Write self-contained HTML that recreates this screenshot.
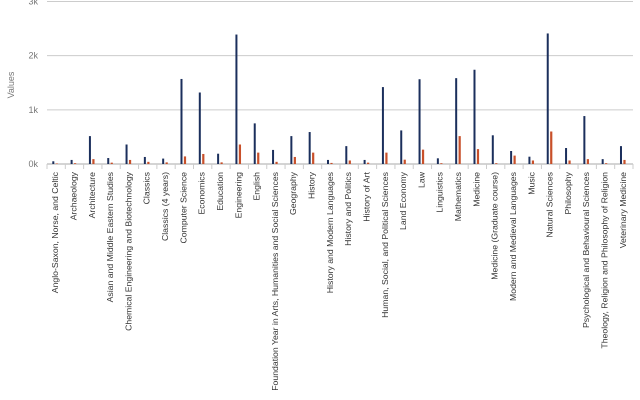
<!DOCTYPE html>
<html><head><meta charset="utf-8"><style>
body{margin:0;background:#fff;}
svg{display:block;font-family:"Liberation Sans",sans-serif;}
</style></head><body>
<svg id="chart" width="640" height="400" viewBox="0 0 640 400"></svg>
<script>
const categories=["Anglo-Saxon, Norse, and Celtic","Archaeology","Architecture","Asian and Middle Eastern Studies","Chemical Engineering and Biotechnology","Classics","Classics (4 years)","Computer Science","Economics","Education","Engineering","English","Foundation Year in Arts, Humanities and Social Sciences","Geography","History","History and Modern Languages","History and Politics","History of Art","Human, Social, and Political Sciences","Land Economy","Law","Linguistics","Mathematics","Medicine","Medicine (Graduate course)","Modern and Medieval Languages","Music","Natural Sciences","Philosophy","Psychological and Behavioural Sciences","Theology, Religion and Philosophy of Religion","Veterinary Medicine"];
const seriesA=[50,75,515,110,360,130,100,1570,1320,190,2390,750,260,515,590,75,330,75,1420,620,1565,105,1585,1740,530,240,135,2410,295,885,90,330];
const seriesB=[10,15,90,25,75,40,30,140,185,30,360,210,40,130,210,20,65,25,210,80,265,15,515,275,15,155,65,600,65,90,15,75];
const yTicks=[0,1000,2000,3000];
const yTickLabels=["0k","1k","2k","3k"];

const svg=document.getElementById('chart');
const NS='http://www.w3.org/2000/svg';
const X0=47,X1=633,Y0=164,Y1=1.5,YMAX=3000;
const bw=(X1-X0)/categories.length;
function y(v){return Y0-(v/YMAX)*(Y0-Y1);}
function x(i){return X0+i*bw;}
function mk(t,a){const e=document.createElementNS(NS,t);for(const k in a)e.setAttribute(k,a[k]);svg.appendChild(e);return e;}

yTicks.forEach((v,i)=>{
  const g=mk('line',{x1:X0,x2:X1,y1:y(v),y2:y(v),stroke:i===0?'#aaa':'#ccc','stroke-width':1});
  
  
  const t=mk('text',{x:38,y:y(v)+3,'text-anchor':'end','font-size':9,fill:'#777'});
  t.textContent=yTickLabels[i];
  
  
});
const yt=mk('text',{x:0,y:0,transform:'translate(14,85) rotate(-90)','text-anchor':'middle','font-size':9,fill:'#777'});
yt.textContent='Values';



categories.forEach((c,i)=>{
  const tk=mk('line',{x1:x(i),x2:x(i),y1:Y0,y2:Y0+5,stroke:'#ccc','stroke-width':1});
  
  
  const a=mk('rect',{x:x(i)+5.3,y:y(seriesA[i]),width:2,height:Y0-y(seriesA[i]),fill:'#1b2f5c'});
  
  
  const b=mk('rect',{x:x(i)+8.7,y:y(seriesB[i]),width:2.2,height:Y0-y(seriesB[i]),fill:'#c8502a'});
  
  
  const cx=x(i)+bw/2-1;
  const t=mk('text',{x:0,y:0,transform:'translate('+(cx+3)+',172) rotate(-90)','text-anchor':'end','font-size':8.7,fill:'#333'});
  t.textContent=c;
  
  
});
mk('line',{x1:X1,x2:X1,y1:Y0,y2:Y0+5,stroke:'#ccc','stroke-width':1});
</script>
</body></html>
